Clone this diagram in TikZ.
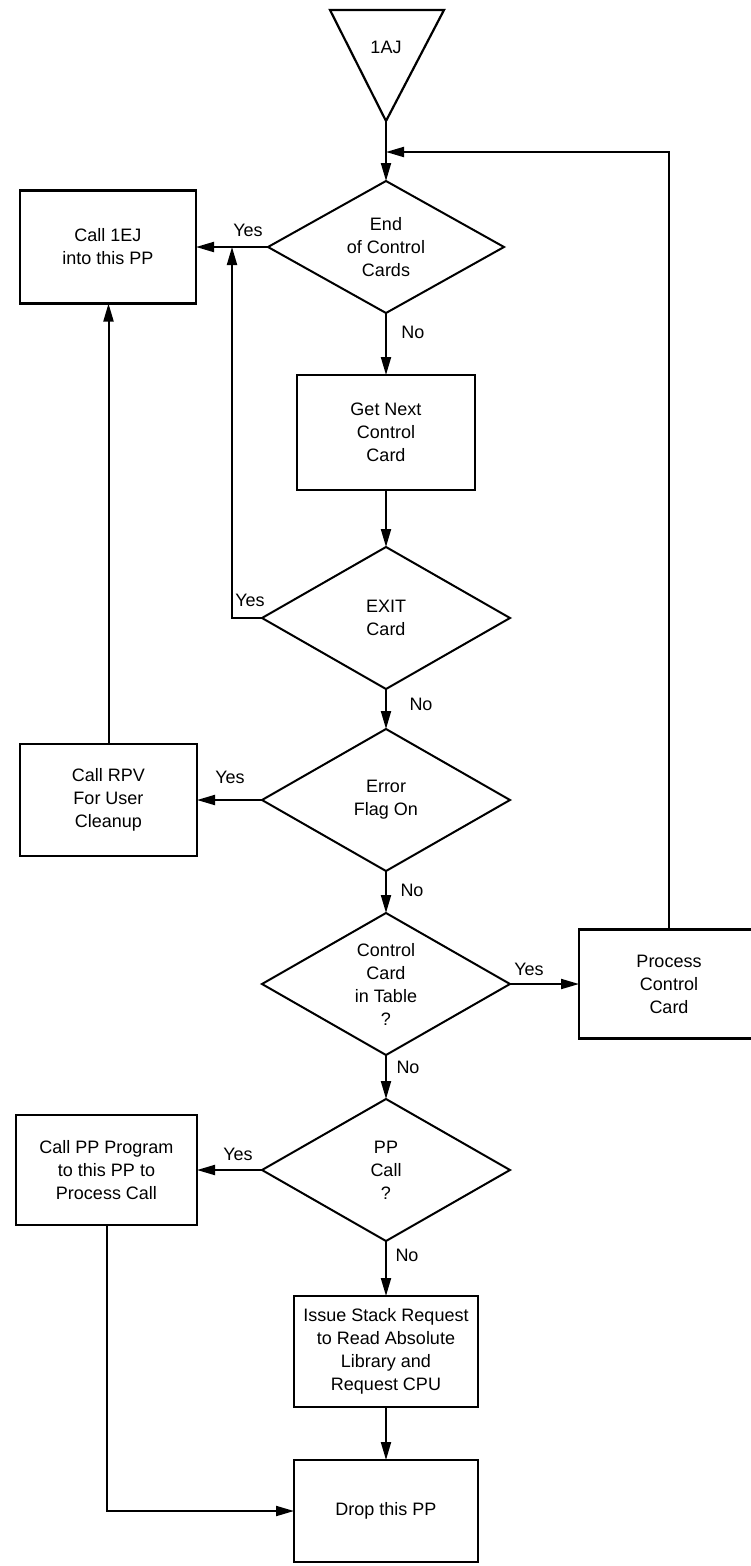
\documentclass[tikz,border=0pt]{standalone}
\usepackage{fontspec}
\setmainfont{Liberation Sans}
\usetikzlibrary{positioning,shapes.geometric,arrows.meta}

\begin{document}
\begin{tikzpicture}[
        x=1pt, y=-1pt,
        font=\fontsize{18}{23}\selectfont,
        proc/.style={
            draw,
            line width=2.2pt,
            minimum width=178pt,
            minimum height=113pt,
            align=center,
            inner sep=0pt,
            outer sep=0pt
        },
        test/.style={
            draw,
            diamond,
            aspect=1.75,
            line width=2pt,
            minimum width=248pt,
            minimum height=142pt,
            align=center,
            inner sep=0pt,
            outer sep=0pt
        },
        flow/.style={
            >={Triangle[length=18pt,width=10pt]},
            ->,
            line width=2pt
        },
        answer/.style={inner sep=1pt},
        node distance=55pt
    ]
    \useasboundingbox (0,0) rectangle (751,1566);

    % entry point
    \coordinate (apex) at (386,121);
    \draw[line width=2.2pt] (330,10) -- (444,10) -- (apex) -- cycle;
    \node (start) at (386,47) {1AJ};
    \coordinate (join) at (386,152);

    % main column
    \node[test, minimum width=236pt, minimum height=132pt] (d1) at (386,247) {End\\of Control\\Cards};
    \node[proc, below=62pt of d1, minimum height=115pt] (gn) {Get Next\\Control\\Card};
    \node[test, below=57pt of gn] (d2) {EXIT\\Card};
    \node[test, below=40pt of d2] (d3) {Error\\Flag On};
    \node[test, below=42pt of d3] (d4) {Control\\Card\\in Table\\?};
    \node[test, below=44pt of d4] (d5) {PP\\Call\\?};
    \node[proc, below=55pt of d5, minimum width=184pt, minimum height=111pt] (isr) {Issue Stack Request\\to Read Absolute\\Library and\\Request CPU};
    \node[proc, below=53pt of isr, minimum width=184pt, minimum height=102pt] (drop) {Drop this PP};

    % side boxes
    \node[proc, left=72pt of d1, minimum width=176pt] (e1) {Call 1EJ\\into this PP};
    \node[proc, left=65pt of d3, minimum width=177pt, minimum height=112pt] (rpv) {Call RPV\\For User\\Cleanup};
    \node[proc, right=69pt of d4, minimum width=180pt, minimum height=109pt] (pc) {Process\\Control\\Card};
    \node[proc, left=65pt of d5, minimum width=181pt, minimum height=110pt] (cpp) {Call PP Program\\to this PP to\\Process Call};
    \coordinate (merge) at (232,247);

    % answers
    \node[answer] (yes1) at (248,230) {Yes};
    \node[answer] (no1) at (413,332) {No};
    \node[answer] (yes2) at (250,600) {Yes};
    \node[answer] (no2) at (421,704) {No};
    \node[answer] (yes3) at (230,777) {Yes};
    \node[answer] (no3) at (412,890) {No};
    \node[answer] (yes4) at (529,969) {Yes};
    \node[answer] (no4) at (408,1067) {No};
    \node[answer] (yes5) at (238,1154) {Yes};
    \node[answer] (no5) at (407,1255) {No};

    % connectors
    \draw[flow] (apex) -- (d1.north);
    \draw[flow] (pc.north) |- (join);
    \draw[flow] (d1.west) -- (e1.east);
    \draw[flow] (d1.south) -- (gn.north);
    \draw[flow] (gn.south) -- (d2.north);
    \draw[flow] (d2.west) -| (merge);
    \draw[flow] (d2.south) -- (d3.north);
    \draw[flow] (d3.west) -- (rpv.east);
    \draw[flow] (rpv.north) -- (rpv.north |- e1.south);
    \draw[flow] (d3.south) -- (d4.north);
    \draw[flow] (d4.east) -- (pc.west);
    \draw[flow] (d4.south) -- (d5.north);
    \draw[flow] (d5.west) -- (cpp.east);
    \draw[flow] (d5.south) -- (isr.north);
    \draw[flow] (isr.south) -- (drop.north);
    \draw[flow] (cpp.south) |- (drop.west);

\end{tikzpicture}
\end{document}
